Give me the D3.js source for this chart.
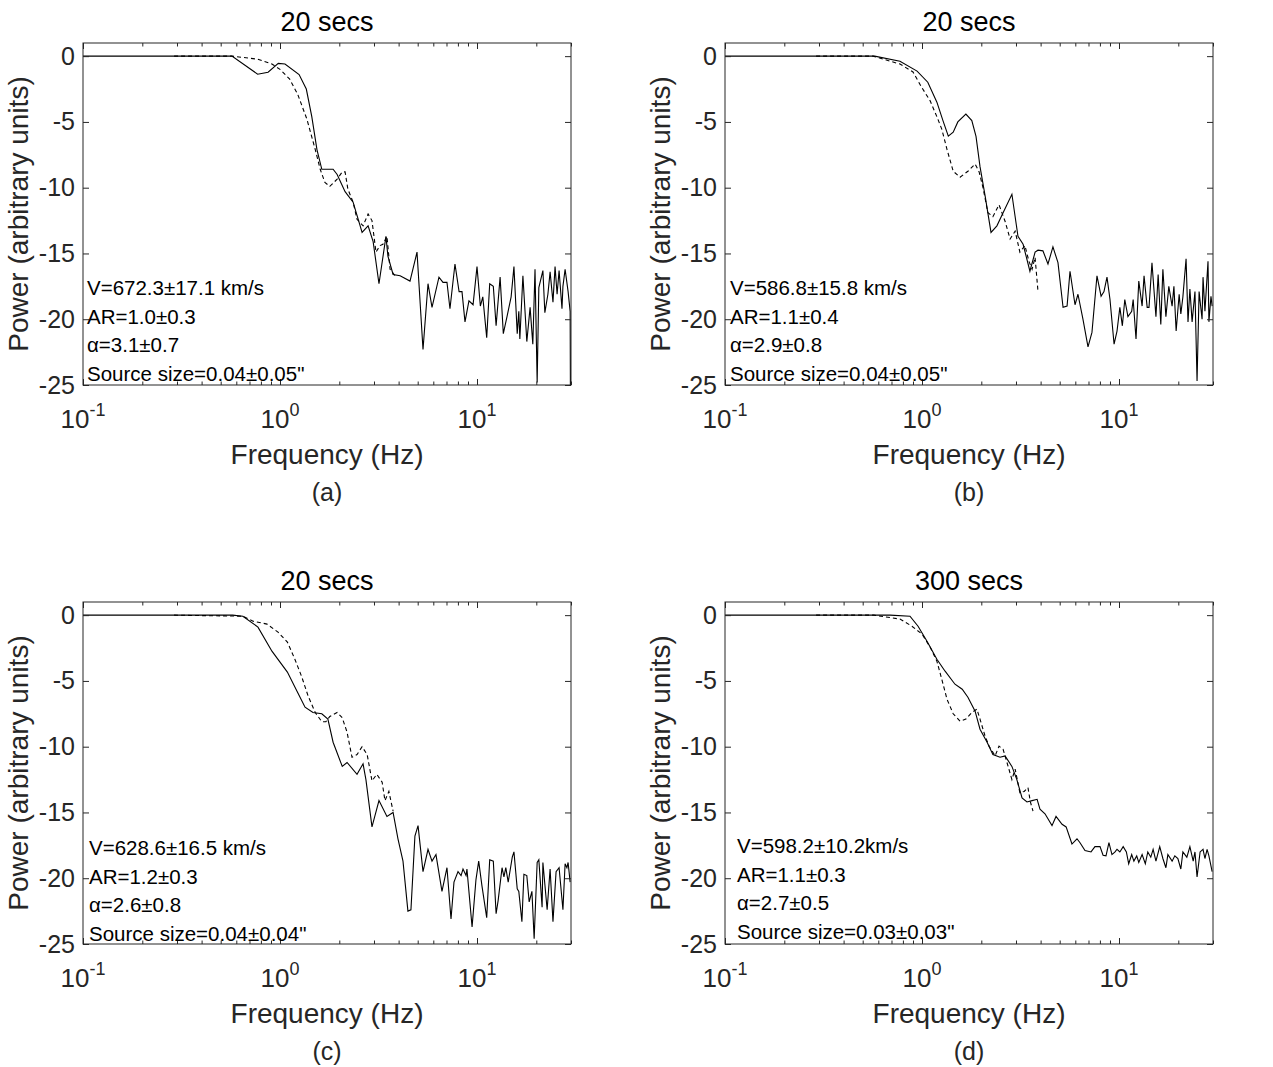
<!DOCTYPE html>
<html><head><meta charset="utf-8">
<script src="https://cdn.jsdelivr.net/npm/d3@7"></script>
<style>body{margin:0;background:#fff} text{font-family:Arial,"Liberation Sans",sans-serif}</style>
</head><body>
<svg id="c" width="1273" height="1067"></svg>
<script>
// ---------- data ----------
const titles = ["20 secs", "20 secs", "20 secs", "300 secs"];
const panelLetters = ["(a)", "(b)", "(c)", "(d)"];
const annotations = [
  ["V=672.3\u00b117.1 km/s", "AR=1.0\u00b10.3", "\u03b1=3.1\u00b10.7", "Source size=0.04\u00b10.05\""],
  ["V=586.8\u00b115.8 km/s", "AR=1.1\u00b10.4", "\u03b1=2.9\u00b10.8", "Source size=0.04\u00b10.05\""],
  ["V=628.6\u00b116.5 km/s", "AR=1.2\u00b10.3", "\u03b1=2.6\u00b10.8", "Source size=0.04\u00b10.04\""],
  ["V=598.2\u00b110.2km/s", "AR=1.1\u00b10.3", "\u03b1=2.7\u00b10.5", "Source size=0.03\u00b10.03\""]
];
const xLabel = "Frequency (Hz)";
const yLabel = "Power (arbitrary units)";
const yTickValues = [0, -5, -10, -15, -20, -25];
const xMajorTicks = [0.1, 1, 10];
const xTickExponents = ["-1", "0", "1"];
const xDomain = [0.1, 30];
const yDomain = [-25, 1];

// [frequency Hz, power]
const solidA = [[0.1,0],[0.57,0],[0.77,-1.37],[0.87,-1.22],[0.98,-0.55],[1.06,-0.6],[1.25,-1.4],[1.36,-2.5],[1.45,-4.6],[1.54,-7.1],[1.63,-8.6],[1.86,-8.6],[1.95,-9.0],[2.14,-10.3],[2.35,-11.1],[2.61,-13.4],[2.80,-12.9],[2.97,-14.1],[3.18,-17.3],[3.45,-13.7],[3.53,-15.2],[3.75,-16.6],[4.07,-16.7],[4.57,-17.1],[4.96,-14.9],[5.32,-22.3],[5.64,-17.3],[5.91,-19.1],[6.41,-16.8],[6.72,-17.2],[7.04,-17.2],[7.29,-19.2],[7.73,-15.8],[8.11,-17.9],[8.39,-17.9],[8.69,-20.2],[9.10,-18.6],[9.55,-18.9],[10.0,-16.0],[10.4,-19.0],[10.7,-18.3],[11.2,-21.4],[11.6,-17.3],[12.1,-17.5],[12.5,-20.5],[13.1,-16.8],[13.6,-21.1],[14.2,-19.8],[14.9,-18.3],[15.4,-16.0],[16.0,-21.1],[16.3,-19.4],[16.5,-21.5],[17.1,-16.7],[17.9,-21.7],[18.6,-19.1],[19.2,-21.9],[19.7,-16.2],[20.2,-24.8],[20.6,-17.6],[21.6,-16.3],[22.1,-19.5],[22.9,-18.1],[23.5,-16.4],[24.3,-18.7],[24.9,-16.0],[25.5,-18.1],[26.1,-16.3],[27.0,-19.2],[27.3,-17.5],[28.0,-16.2],[29.0,-17.9],[29.7,-19.4],[29.8,-25.5]];
const dashedA = [[0.29,0],[0.57,0],[0.77,-0.23],[0.91,-0.6],[1.0,-1.0],[1.12,-1.75],[1.23,-2.9],[1.37,-4.8],[1.51,-7.1],[1.60,-8.6],[1.69,-9.6],[1.79,-9.9],[1.95,-9.35],[2.07,-8.8],[2.14,-8.8],[2.21,-10.1],[2.35,-11.1],[2.46,-12.4],[2.64,-12.9],[2.80,-12.0],[2.93,-12.5],[3.07,-14.9],[3.22,-14.4],[3.33,-14.3],[3.49,-13.7],[3.62,-16.2],[3.84,-16.7]];

const solidB = [[0.1,0],[0.575,0],[0.773,-0.38],[0.944,-1.14],[1.07,-1.98],[1.19,-3.5],[1.28,-4.94],[1.36,-6.08],[1.44,-5.78],[1.52,-5.0],[1.67,-4.4],[1.79,-4.9],[1.88,-6.1],[1.97,-8.4],[2.09,-10.6],[2.24,-13.4],[2.40,-12.9],[2.58,-11.9],[2.86,-10.5],[3.07,-13.7],[3.26,-14.3],[3.53,-16.35],[3.75,-14.9],[3.88,-14.75],[4.11,-14.8],[4.36,-15.8],[4.62,-14.5],[4.90,-15.7],[5.20,-19.1],[5.45,-19.0],[5.64,-16.35],[5.98,-18.9],[6.19,-18.1],[6.56,-20.0],[6.96,-22.1],[7.29,-21.0],[7.73,-16.7],[8.11,-18.25],[8.39,-17.9],[8.69,-16.8],[9.00,-18.5],[9.44,-21.9],[9.77,-20.9],[10.1,-19.1],[10.4,-20.5],[10.7,-18.5],[11.1,-19.8],[11.6,-19.4],[11.8,-18.5],[12.2,-21.5],[12.6,-17.1],[13.1,-19.0],[13.4,-16.7],[13.9,-19.1],[14.2,-19.1],[14.7,-15.7],[15.4,-19.8],[15.8,-16.6],[16.3,-20.4],[16.7,-16.2],[17.3,-19.8],[17.9,-17.5],[18.6,-19.0],[19.0,-17.5],[19.5,-20.9],[20.2,-18.1],[20.6,-19.6],[21.1,-18.3],[21.9,-15.4],[22.4,-20.2],[22.9,-17.7],[23.5,-20.2],[24.3,-17.9],[24.9,-24.7],[25.5,-17.9],[26.4,-20.0],[26.7,-16.8],[27.3,-19.4],[28.3,-15.6],[28.6,-20.2],[29.3,-18.25],[29.7,-19.0]];
const dashedB = [[0.29,0],[0.565,0],[0.773,-0.6],[0.90,-1.2],[0.99,-2.3],[1.10,-3.4],[1.19,-4.6],[1.26,-5.55],[1.34,-7.1],[1.44,-8.75],[1.56,-9.2],[1.71,-8.75],[1.86,-8.2],[1.95,-8.8],[2.04,-10.0],[2.16,-11.9],[2.29,-12.2],[2.46,-11.3],[2.64,-12.55],[2.80,-13.9],[2.97,-13.3],[3.14,-14.9],[3.33,-14.4],[3.49,-15.6],[3.62,-16.2],[3.75,-15.3],[3.88,-17.9]];

const solidC = [[0.1,0],[0.575,0],[0.648,-0.08],[0.773,-0.91],[0.910,-2.74],[1.09,-4.33],[1.22,-5.78],[1.34,-7.0],[1.47,-7.4],[1.63,-7.5],[1.75,-7.9],[1.86,-9.66],[2.07,-11.5],[2.19,-11.2],[2.46,-12.1],[2.64,-11.3],[2.73,-12.5],[2.93,-16.1],[3.18,-14.1],[3.49,-15.3],[3.75,-15.0],[3.97,-17.0],[4.21,-18.7],[4.46,-22.5],[4.62,-22.4],[4.84,-16.8],[5.02,-16.0],[5.32,-19.5],[5.64,-17.8],[5.91,-18.7],[6.19,-18.2],[6.64,-21.0],[7.04,-19.2],[7.38,-23.1],[7.64,-20.3],[8.01,-19.5],[8.30,-19.8],[8.49,-19.3],[8.80,-19.8],[8.89,-19.3],[9.44,-23.7],[9.88,-20.1],[10.2,-18.7],[10.6,-20.6],[11.2,-23.0],[11.6,-18.6],[12.1,-18.7],[12.5,-22.7],[12.8,-21.7],[13.4,-19.2],[13.7,-19.9],[14.0,-19.2],[14.4,-20.3],[15.1,-18.4],[15.4,-18.0],[16.0,-20.8],[16.3,-21.0],[16.9,-23.3],[17.3,-19.7],[17.9,-19.8],[18.4,-21.8],[19.0,-21.0],[19.5,-24.6],[20.2,-18.8],[20.6,-18.6],[21.4,-22.2],[21.6,-18.8],[22.7,-22.4],[23.5,-19.3],[24.3,-23.3],[25.2,-19.5],[26.1,-19.2],[27.3,-22.4],[28.0,-18.9],[28.6,-19.2],[29.0,-18.8],[29.7,-20.3]];
const dashedC = [[0.29,0],[0.648,-0.08],[0.730,-0.46],[0.859,-0.68],[0.977,-1.29],[1.09,-2.05],[1.19,-3.35],[1.29,-4.7],[1.39,-6.16],[1.51,-7.4],[1.63,-8.1],[1.71,-8.1],[1.79,-7.7],[1.95,-7.4],[2.07,-7.8],[2.19,-8.9],[2.32,-10.8],[2.46,-10.6],[2.61,-10.0],[2.77,-10.6],[2.93,-12.6],[3.10,-12.1],[3.30,-12.7],[3.41,-14.1],[3.57,-13.4],[3.75,-14.9]];

const solidD = [[0.1,0],[0.689,0],[0.869,-0.08],[0.955,-0.84],[1.06,-1.98],[1.19,-3.35],[1.31,-4.26],[1.47,-5.25],[1.60,-5.63],[1.71,-6.24],[1.86,-7.3],[1.97,-8.67],[2.14,-9.66],[2.29,-10.6],[2.49,-10.8],[2.64,-10.7],[2.86,-11.5],[3.03,-12.5],[3.22,-13.9],[3.41,-14.2],[3.62,-14.1],[3.84,-14.0],[3.97,-14.75],[4.21,-15.1],[4.57,-16.0],[4.79,-15.3],[5.14,-15.9],[5.39,-16.1],[5.77,-17.4],[6.12,-17.0],[6.34,-17.3],[6.72,-17.9],[7.21,-18.0],[7.55,-17.6],[8.01,-17.6],[8.30,-18.25],[8.59,-18.3],[8.89,-17.3],[9.21,-18.2],[9.55,-18.0],[9.77,-17.8],[10.1,-18.0],[10.5,-17.6],[10.9,-18.0],[11.2,-18.9],[11.6,-18.2],[11.9,-18.7],[12.3,-18.3],[12.6,-18.8],[13.1,-18.2],[13.6,-18.9],[14.0,-18.0],[14.5,-18.4],[14.9,-17.8],[15.4,-18.7],[16.1,-17.6],[16.7,-18.5],[17.3,-19.2],[17.7,-18.2],[18.6,-18.7],[19.2,-18.3],[19.9,-18.5],[20.6,-19.3],[21.1,-18.0],[22.1,-18.4],[22.9,-17.6],[23.8,-18.7],[24.3,-18.0],[24.9,-19.9],[25.8,-18.0],[26.7,-17.8],[27.3,-18.5],[28.0,-17.8],[28.6,-18.3],[29.7,-19.5]];
const dashedD = [[0.29,0],[0.57,0],[0.773,-0.3],[0.889,-0.84],[1.0,-1.44],[1.10,-2.43],[1.19,-3.5],[1.26,-4.87],[1.34,-6.4],[1.44,-7.5],[1.56,-8.06],[1.67,-7.9],[1.79,-7.4],[1.90,-7.15],[1.97,-7.9],[2.09,-9.2],[2.19,-9.96],[2.35,-10.7],[2.46,-9.96],[2.58,-10.2],[2.70,-11.2],[2.86,-12.5],[2.97,-11.7],[3.14,-13.5],[3.30,-13.4],[3.45,-13.1],[3.55,-14.2],[3.66,-14.9]];

const solidSeries = [solidA, solidB, solidC, solidD];
const dashedSeries = [dashedA, dashedB, dashedC, dashedD];

// ---------- drawing ----------
const svg = d3.select("#c");
const W = 488, H = 342;
const axisColor = "#262626";
const x = d3.scaleLog().domain(xDomain).range([0, W]);
const y = d3.scaleLinear().domain(yDomain).range([H, 0]);

const minorTicks = [];
[0.1, 1, 10].forEach(d => { for (let k = 2; k <= 9; k++) { const v = k * d; if (v <= xDomain[1]) minorTicks.push(v); } });

const layout = [
  {l: 83, t: 43, ax: 4, ay: 252},
  {l: 725, t: 43, ax: 5, ay: 252},
  {l: 83, t: 602, ax: 6, ay: 253},
  {l: 725, t: 602, ax: 12, ay: 251}
];

const line = d3.line().x(d => x(d[0])).y(d => y(d[1]));

layout.forEach((L, i) => {
  const g = svg.append("g").attr("transform", `translate(${L.l},${L.t})`);
  const clipId = "clip" + i;
  g.append("clipPath").attr("id", clipId).append("rect").attr("width", W).attr("height", H);

  const plot = g.append("g").attr("clip-path", `url(#${clipId})`);
  plot.append("path").datum(dashedSeries[i]).attr("d", line)
    .attr("fill", "none").attr("stroke", "#000").attr("stroke-width", 1.1).attr("stroke-dasharray", "4,3");
  plot.append("path").datum(solidSeries[i]).attr("d", line)
    .attr("fill", "none").attr("stroke", "#000").attr("stroke-width", 1.1);

  function styleAxis(sel) {
    sel.select(".domain").remove();
    sel.selectAll("line").attr("stroke", axisColor);
  }
  g.append("g").attr("transform", `translate(0,${H})`)
    .call(d3.axisBottom(x).tickValues(minorTicks).tickSize(-3.5).tickFormat("")).call(styleAxis);
  g.append("g").attr("transform", `translate(0,${H})`)
    .call(d3.axisBottom(x).tickValues(xMajorTicks).tickSize(-6).tickFormat("")).call(styleAxis);
  g.append("g").call(d3.axisTop(x).tickValues(minorTicks).tickSize(-3.5).tickFormat("")).call(styleAxis);
  g.append("g").call(d3.axisTop(x).tickValues(xMajorTicks).tickSize(-6).tickFormat("")).call(styleAxis);
  const yl = g.append("g").call(d3.axisLeft(y).tickValues(yTickValues).tickSize(-6).tickPadding(8).tickFormat(d => String(d)));
  yl.call(styleAxis);
  yl.selectAll("text").attr("font-size", 25).attr("fill", axisColor).attr("font-family", "Arial, 'Liberation Sans', sans-serif");
  g.append("g").attr("transform", `translate(${W},0)`)
    .call(d3.axisRight(y).tickValues(yTickValues).tickSize(-6).tickFormat("")).call(styleAxis);

  g.append("rect").attr("width", W).attr("height", H).attr("fill", "none")
    .attr("stroke", axisColor).attr("stroke-width", 1);

  xMajorTicks.forEach((v, k) => {
    const t = g.append("text").attr("x", x(v)).attr("y", H + 43).attr("text-anchor", "middle")
      .attr("fill", axisColor).attr("font-size", 26);
    t.append("tspan").text("10");
    t.append("tspan").attr("font-size", 18).attr("dy", -12).text(xTickExponents[k]);
  });

  g.append("text").attr("x", W / 2).attr("y", -12).attr("text-anchor", "middle")
    .attr("font-size", 27).attr("fill", "#000").text(titles[i]);
  g.append("text").attr("x", W / 2).attr("y", H + 79).attr("text-anchor", "middle")
    .attr("font-size", 28).attr("fill", axisColor).text(xLabel);
  g.append("text").attr("transform", `translate(-55,${H / 2}) rotate(-90)`).attr("text-anchor", "middle")
    .attr("font-size", 28).attr("fill", axisColor).text(yLabel);
  g.append("text").attr("x", W / 2).attr("y", H + 116).attr("text-anchor", "middle")
    .attr("font-size", 25).attr("fill", axisColor).text(panelLetters[i]);
  annotations[i].forEach((s, k) => {
    g.append("text").attr("x", L.ax).attr("y", L.ay + k * 28.5)
      .attr("font-size", 20.5).attr("fill", "#000").text(s);
  });
});
</script>
</body></html>
